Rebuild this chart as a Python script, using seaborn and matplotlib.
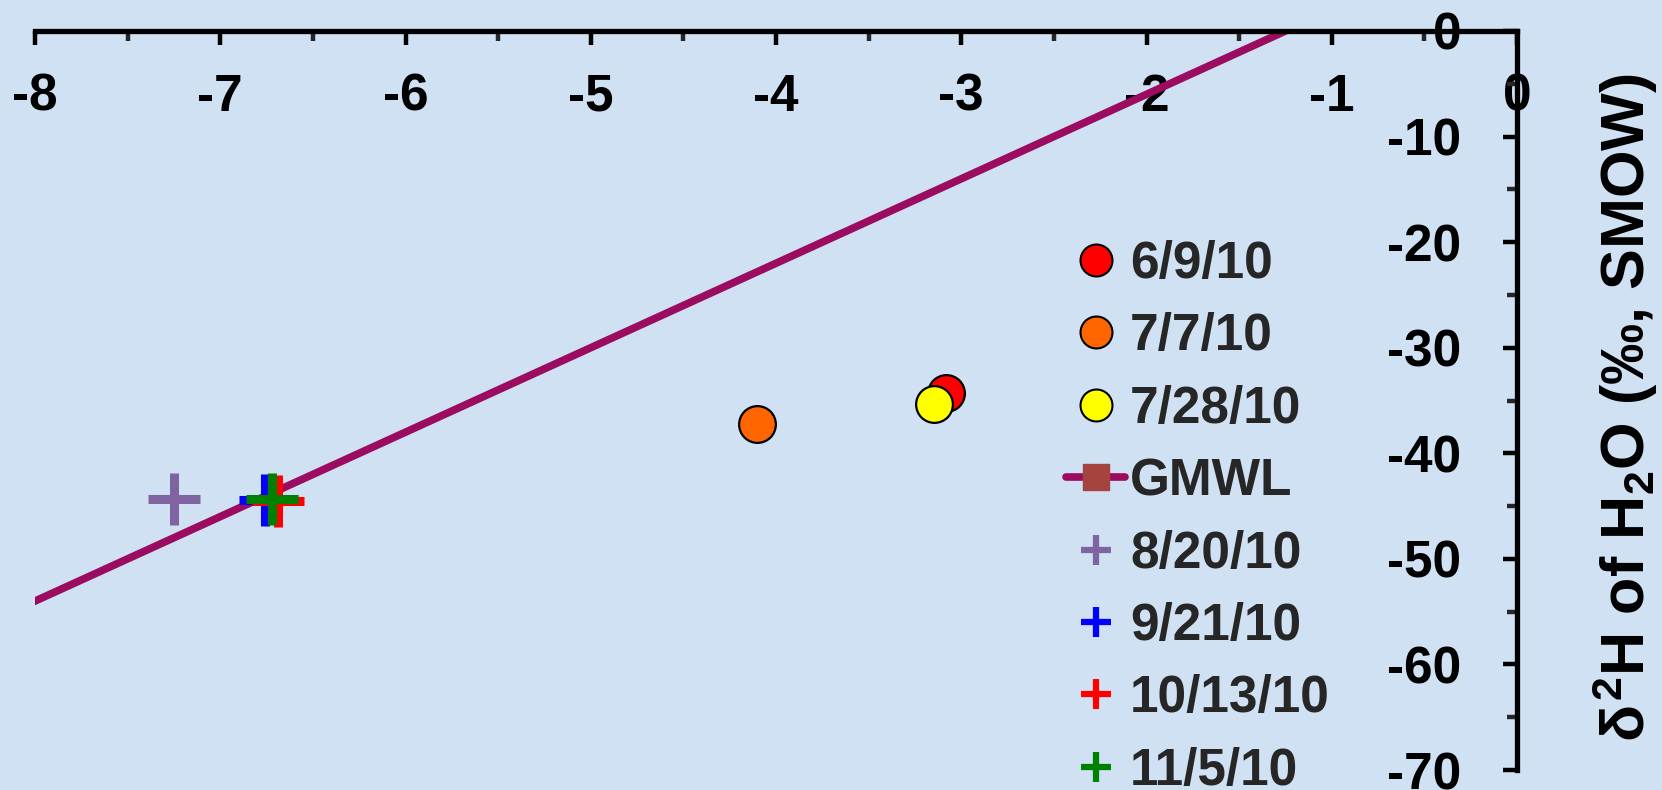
import matplotlib
matplotlib.use("Agg")
import matplotlib.pyplot as plt
from matplotlib.lines import Line2D
import seaborn as sns
import numpy as np

# ---- data ----
circle_labels = ["6/9/10", "7/7/10", "7/28/10"]
circle_x = [-3.08, -4.10, -3.145]
circle_y = [-34.3, -37.2, -35.3]
circle_colors = ["#FF0000", "#FF6600", "#FFFF00"]

plus_labels = ["8/20/10", "9/21/10", "10/13/10", "11/5/10"]
plus_x = [-7.25, -6.76, -6.69, -6.72]
plus_y = [-44.35, -44.45, -44.55, -44.3]
plus_colors = ["#8064A2", "#0000FF", "#FF0000", "#008000"]

gmwl_label = "GMWL"
gmwl_x = [-10.0, 0.0]
gmwl_y = [-70.0, 10.0]

x_ticks = [-8, -7, -6, -5, -4, -3, -2, -1, 0]
y_ticks = [0, -10, -20, -30, -40, -50, -60, -70]
y_label = r"$\delta^{2}$H of H$_{2}$O (‰, SMOW)"

BG = "#CFE1F2"
LINE_C = "#9B0B5F"
SQ_C = "#A5443F"

sns.set_theme(style="white")
plt.rcParams["font.family"] = ["Liberation Sans", "DejaVu Sans"]
plt.rcParams["font.weight"] = "bold"
plt.rcParams["mathtext.fontset"] = "custom"
plt.rcParams["mathtext.rm"] = "Liberation Sans:bold"
plt.rcParams["mathtext.it"] = "Liberation Sans:bold"
plt.rcParams["mathtext.bf"] = "Liberation Sans:bold"

fig = plt.figure(figsize=(16.62, 7.90), dpi=100, facecolor=BG)
ax = fig.add_axes([35 / 1662, 1 - 770 / 790, (1517 - 35) / 1662, (770 - 31) / 790])
ax.set_facecolor(BG)

# GMWL line
sns.lineplot(x=gmwl_x, y=gmwl_y, ax=ax, color=LINE_C, linewidth=5.5, zorder=2,
             legend=False, sort=False)

# circle markers
for lab, xv, yv, c in zip(circle_labels, circle_x, circle_y, circle_colors):
    sns.scatterplot(x=[xv], y=[yv], ax=ax, color=c, marker="o", s=700,
                    edgecolor="black", linewidth=1.6, zorder=3, legend=False)

# plus markers
for lab, xv, yv, c in zip(plus_labels, plus_x, plus_y, plus_colors):
    sns.scatterplot(x=[xv], y=[yv], ax=ax, color=c, marker="+", s=1444,
                    linewidth=6.5, zorder=4, legend=False)

ax.set_xlim(-8, 0)
ax.set_ylim(-70, 0)

# spines
for side in ["left", "bottom"]:
    ax.spines[side].set_visible(False)
for side in ["top", "right"]:
    ax.spines[side].set_visible(True)
    ax.spines[side].set_color("black")
    ax.spines[side].set_linewidth(3.8)

TICK_FS = 37

# x axis ticks on top, labels below the top spine
ax.set_xticks(x_ticks)
ax.set_xticks(np.arange(-7.5, 0, 1.0), minor=True)
ax.xaxis.set_ticks_position("top")
ax.tick_params(axis="x", which="major", direction="in", top=True, bottom=False,
               labeltop=True, labelbottom=False, length=10, width=3.2,
               labelsize=TICK_FS, pad=-30, colors="black")
ax.tick_params(axis="x", which="minor", direction="in", top=True, bottom=False,
               length=7, width=3.2)
ax.set_xticklabels([str(t) for t in x_ticks], fontweight="bold")
for lbl in ax.get_xticklabels():
    lbl.set_verticalalignment("top")

# y axis ticks on right, labels left of the right spine
ax.set_yticks(y_ticks)
ax.set_yticks(np.arange(-65, 0, 10), minor=True)
ax.yaxis.set_ticks_position("right")
ax.tick_params(axis="y", which="major", direction="in", right=True, left=False,
               labelright=True, labelleft=False, length=10, width=3.2,
               labelsize=TICK_FS, pad=-40, colors="black")
ax.tick_params(axis="y", which="minor", direction="in", right=True, left=False,
               length=7, width=3.2)
ax.set_yticklabels([str(t) for t in y_ticks], fontweight="bold")
for lbl in ax.get_yticklabels():
    lbl.set_horizontalalignment("right")

ax.yaxis.set_label_position("right")
ax.set_ylabel(y_label, fontsize=44, fontweight="bold", color="black")
ax.yaxis.set_label_coords((1590 - 35) / (1517 - 35), (770 - 408) / (770 - 31))

# legend
handles = []
labels = []
for lab, c in zip(circle_labels, circle_colors):
    handles.append(Line2D([], [], linestyle="none", marker="o", markersize=23,
                          markerfacecolor=c, markeredgecolor="black", markeredgewidth=1.5))
    labels.append(lab)
handles.append(Line2D([], [], color=LINE_C, linewidth=5.5, marker="s", markersize=19,
                      markerfacecolor=SQ_C, markeredgecolor=SQ_C))
labels.append(gmwl_label)
for lab, c in zip(plus_labels, plus_colors):
    handles.append(Line2D([], [], linestyle="none", marker="+", markersize=22,
                          markeredgewidth=4.5, color=c))
    labels.append(lab)

leg = fig.legend(handles, labels, loc="upper left",
                 bbox_to_anchor=(1066 / 1662, 1 - 240 / 790),
                 frameon=False, prop={"weight": "bold", "size": 37},
                 handlelength=1.15, handletextpad=0.1, labelspacing=0.455,
                 borderpad=0, borderaxespad=0)

fig.savefig("out.png", dpi=100, facecolor=BG)
